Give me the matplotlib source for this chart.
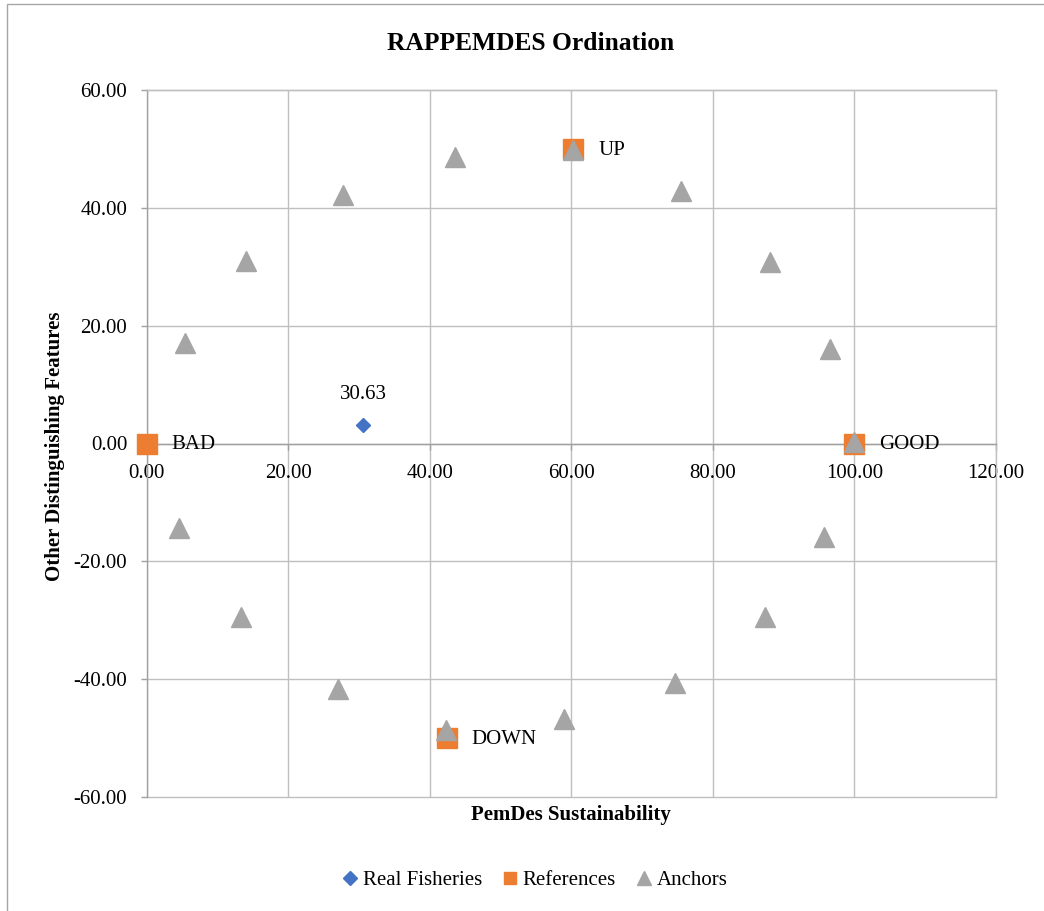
import matplotlib
matplotlib.use("Agg")
import matplotlib.pyplot as plt
from matplotlib.patches import Rectangle
from matplotlib.ticker import FormatStrFormatter

plt.rcParams['font.family'] = ['Liberation Serif', 'DejaVu Serif']

# ---- data ----
real_x = [30.63]
real_y = [3.2]

ref_names = ["BAD", "GOOD", "UP", "DOWN"]
ref_x = [0.0, 100.0, 60.25, 42.4]
ref_y = [0.0, 0.0, 50.0, -50.0]

anchor_x = [5.4, 14.1, 27.8, 43.6, 60.25, 75.5, 88.0, 96.5, 100.0,
            95.7, 87.3, 74.7, 59.0, 42.3, 27.0, 13.3, 4.6]
anchor_y = [17.0, 30.9, 42.2, 48.6, 49.8, 42.9, 30.85, 16.05, 0.2,
            -15.8, -29.4, -40.6, -46.8, -48.6, -41.6, -29.4, -14.4]

x_ticks = [0, 20, 40, 60, 80, 100, 120]
y_ticks = [-60, -40, -20, 0, 20, 40, 60]

title = "RAPPEMDES Ordination"
x_label = "PemDes Sustainability"
y_label = "Other Distinguishing Features"
series_names = ["Real Fisheries", "References", "Anchors"]

# ---- figure ----
W, H = 1044, 911
fig = plt.figure(figsize=(W / 100, H / 100), dpi=100)
fig.patch.set_facecolor("white")

# chart border (top and left visible)
fig.patches.append(Rectangle((7 / W, -0.1), 1.2, 1.1 - 4 / H, transform=fig.transFigure,
                             fill=False, edgecolor="#A6A6A6", linewidth=1.0))

ax = fig.add_axes([146.7 / W, 1 - 797 / H, (996 - 146.7) / W, (797 - 90) / H])

grid_c = "#BFBFBF"
axis_c = "#A0A0A0"

ax.set_xlim(x_ticks[0], x_ticks[-1])
ax.set_ylim(y_ticks[0], y_ticks[-1])
ax.set_xticks(x_ticks)
ax.set_yticks(y_ticks)
ax.xaxis.set_major_formatter(FormatStrFormatter("%.2f"))
ax.yaxis.set_major_formatter(FormatStrFormatter("%.2f"))
ax.grid(True, color=grid_c, linewidth=1.0, zorder=0)
ax.set_axisbelow(True)
for gl in ax.get_xgridlines() + ax.get_ygridlines():
    gl.set_clip_on(False)

for s in ["top", "right"]:
    ax.spines[s].set_color(grid_c)
    ax.spines[s].set_linewidth(1.0)
ax.spines["bottom"].set_position(("data", 0))
ax.spines["bottom"].set_color(axis_c)
ax.spines["left"].set_color(axis_c)
ax.spines["bottom"].set_linewidth(1.0)
ax.spines["left"].set_linewidth(1.0)

ax.tick_params(axis="both", labelsize=15, colors=axis_c, labelcolor="black",
               length=4, width=1.0, direction="out")
ax.tick_params(axis="y", pad=10)
ax.tick_params(axis="x", pad=11)

ax.plot(real_x, real_y, linestyle="none", marker="D", markersize=7.5,
        color="#4472C4", label=series_names[0], zorder=3, clip_on=False)
ax.plot(ref_x, ref_y, linestyle="none", marker="s", markersize=14,
        color="#ED7D31", label=series_names[1], zorder=3, clip_on=False)
ax.plot(anchor_x, anchor_y, linestyle="none", marker="^", markersize=14,
        color="#A5A5A5", label=series_names[2], zorder=4, clip_on=False)

# data labels
for x, y in zip(real_x, real_y):
    ax.annotate(f"{x:.2f}", (x, y), xytext=(0, 22), textcoords="offset points",
                ha="center", va="center", fontsize=15, zorder=5)
for name, x, y in zip(ref_names, ref_x, ref_y):
    ax.annotate(name, (x, y), xytext=(18, -1), textcoords="offset points",
                ha="left", va="center", fontsize=15, zorder=5)

fig.text(531 / W, 1 - 43 / H, title, ha="center", va="center",
         fontsize=18.4, fontweight="bold")
fig.text(571 / W, 1 - 815 / H, x_label, ha="center", va="center",
         fontsize=15, fontweight="bold")
fig.text(55 / W, 1 - 446 / H, y_label, ha="center", va="center",
         fontsize=15, fontweight="bold", rotation=90)

leg = fig.legend(loc="center", bbox_to_anchor=(535 / W, 1 - 880 / H), ncol=3,
                 frameon=False, fontsize=15, handlelength=0.7, handletextpad=0.25,
                 columnspacing=1.0, borderpad=0)
sizes = [7, 9, 10]
for h, s in zip(leg.legend_handles, sizes):
    h.set_markersize(s)

fig.savefig("out.png", dpi=100, facecolor="white")
